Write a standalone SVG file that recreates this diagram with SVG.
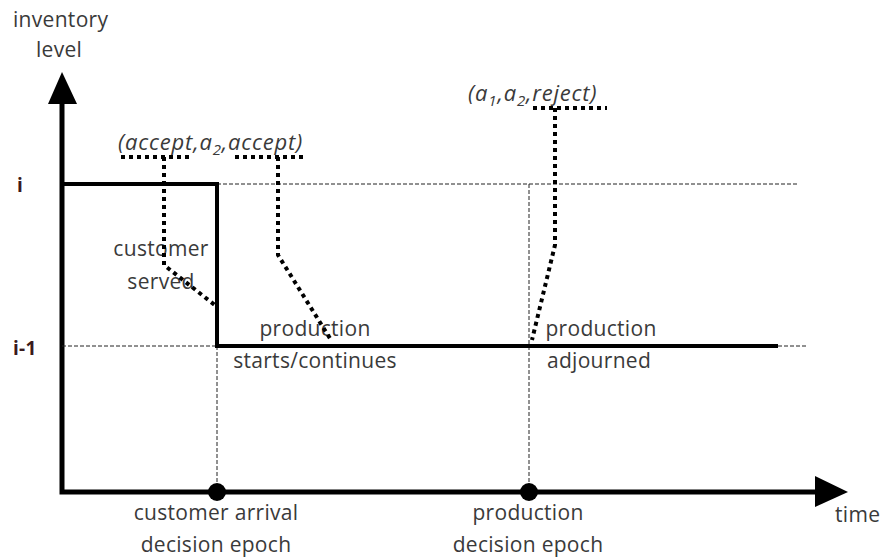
<svg xmlns="http://www.w3.org/2000/svg" width="885" height="560" viewBox="0 0 885 560">
  <style>
    text { font-family: "Open Sans", "Liberation Sans", sans-serif; font-size: 21px; fill: #3a3a3a; letter-spacing: 0.3px; }
    .it { font-style: italic; font-size: 22px; letter-spacing: 0.8px; }
    .sub { font-size: 15px; }
    .lvl { font-weight: bold; fill: #3a1a1a; font-size: 19px; }
    .axis { stroke: #000; stroke-width: 5; fill: none; }
    .stock { stroke: #000; stroke-width: 4; fill: none; }
    .guide { stroke: #222; stroke-width: 1; stroke-dasharray: 4 2; fill: none; }
    .dots { stroke: #000; stroke-width: 4; stroke-dasharray: 4 4; fill: none; }
  </style>

  <rect width="885" height="560" fill="#fff"/>

  <!-- axes -->
  <g id="axes">
    <polyline class="axis" points="62,100 62,492 820,492"/>
    <polygon points="62,72 48,104 77,104" fill="#000"/>
    <polygon points="848,492 815,476 815,507" fill="#000"/>
    <text x="13" y="27">inventory</text>
    <text x="36" y="57">level</text>
    <text x="835" y="522">time</text>
  </g>

  <!-- level guides -->
  <g id="guides">
    <line class="guide" x1="217" y1="184" x2="797" y2="184"/>
    <line class="guide" x1="62" y1="346" x2="217" y2="346"/>
    <line class="guide" x1="778" y1="346" x2="806" y2="346"/>
    <line class="guide" x1="217" y1="346" x2="217" y2="492"/>
    <line class="guide" x1="529" y1="184" x2="529" y2="492"/>
    <text class="lvl" x="17" y="192">i</text>
    <text class="lvl" x="13" y="355">i-1</text>
  </g>

  <!-- inventory trajectory -->
  <g id="trajectory">
    <polyline class="stock" points="62,184 217,184 217,346 778,346"/>
  </g>

  <!-- decision epochs -->
  <g id="epoch-customer">
    <circle cx="217" cy="492" r="9" fill="#000"/>
    <text x="216" y="520" text-anchor="middle">customer arrival</text>
    <text x="216" y="552" text-anchor="middle">decision epoch</text>
  </g>
  <g id="epoch-production">
    <circle cx="529" cy="492" r="9" fill="#000"/>
    <text x="528" y="520" text-anchor="middle">production</text>
    <text x="528" y="552" text-anchor="middle">decision epoch</text>
  </g>

  <!-- event labels -->
  <g id="event-served">
    <text x="161" y="256" text-anchor="middle">customer</text>
    <text x="161" y="289" text-anchor="middle">served</text>
  </g>
  <g id="event-starts">
    <text x="315" y="336" text-anchor="middle">production</text>
    <text x="315" y="368" text-anchor="middle">starts/continues</text>
  </g>
  <g id="event-adjourned">
    <text x="601" y="336" text-anchor="middle">production</text>
    <text x="599" y="368" text-anchor="middle">adjourned</text>
  </g>

  <!-- action tuples -->
  <g id="action-accept">
    <text class="it" x="118" y="150">(accept,a<tspan class="sub" dy="5">2</tspan><tspan dy="-5">,accept)</tspan></text>
  </g>
  <g id="action-reject">
    <text class="it" x="468" y="101">(a<tspan class="sub" dy="5">1</tspan><tspan dy="-5">,a</tspan><tspan class="sub" dy="5">2</tspan><tspan dy="-5">,reject)</tspan></text>
  </g>

  <!-- dotted callouts -->
  <g id="connectors">
    <line class="dots" x1="121" y1="157" x2="193" y2="157"/>
    <polyline class="dots" points="164,157 164,265 216,306"/>
    <line class="dots" x1="235" y1="157" x2="307" y2="157"/>
    <polyline class="dots" points="278,157 278,255 331,340"/>
    <line class="dots" x1="533" y1="108" x2="607" y2="108"/>
    <polyline class="dots" points="555,108 555,245 532,340"/>
  </g>
</svg>
